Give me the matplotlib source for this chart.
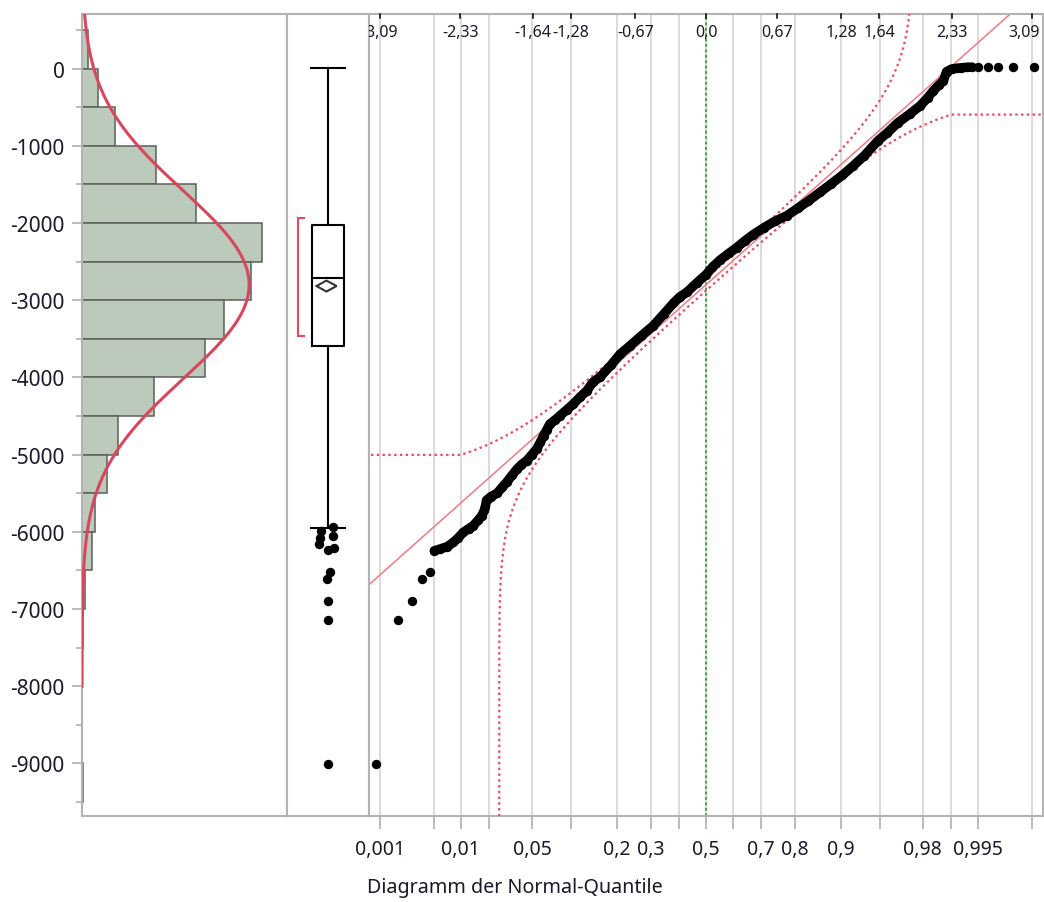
import numpy as np
import matplotlib
matplotlib.use('Agg')
import matplotlib.pyplot as plt
from matplotlib.patches import Polygon
from statistics import NormalDist

plt.rcParams['font.family'] = ['Noto Sans', 'DejaVu Sans']
plt.rcParams['axes.unicode_minus'] = False

# ---------------- data ----------------
# histogram bins (upper edges) and counts
hist_upper = [500, 0, -500, -1000, -1500, -2000, -2500, -3000, -3500, -4000,
              -4500, -5000, -5500, -6000, -6500, -7000, -7500, -8000, -8500, -9000]
hist_counts = [7, 18, 37, 82, 127, 200, 188, 158, 137, 80,
               40, 28, 15, 11, 3, 1, 0, 0, 0, 1]
bin_width = 500

# fitted normal
fit_mean = -2800
fit_sd = 1216
band_d = 0.025   # confidence band half-width (probability)

# box plot statistics
box_q1, box_med, box_q3 = -3590, -2717, -2030
box_whislo, box_whishi = -5945, 5
mean_ci = (-2888, -2746)
shortest_half = (-3460, -1937)
box_outliers = [-5995, -5940, -6085, -6050, -6160, -6230, -6210, -6516, -6610, -6900, -7145, -9010]
box_outlier_jitter = [-0.09, 0.06, -0.10, 0.06, -0.11, 0.0, 0.07, 0.03, -0.01, 0.0, 0.0, 0.0]

# normal quantile plot: (normal quantile, value)
qq_low_z = [-3.128, -2.92, -2.79, -2.695, -2.62]
qq_low_v = [-9010, -7145, -6900, -6610, -6525]
qq_chain_z = [-2.575, -2.52, -2.45, -2.395, -2.35, -2.30, -2.25, -2.206, -2.16, -2.126,
              -2.10, -2.09, -2.08, -2.04, -1.98, -1.93, -1.89, -1.84, -1.79, -1.75,
              -1.70, -1.65, -1.605, -1.57, -1.54, -1.51, -1.48, -1.43, -1.384, -1.32,
              -1.258, -1.19, -1.13, -1.07, -1.00, -0.90, -0.815, -0.72, -0.62, -0.50,
              -0.40, -0.31, -0.25, -0.183, -0.09, 0.0, 0.07, 0.133, 0.22, 0.29,
              0.37, 0.448, 0.55, 0.65, 0.765, 0.87, 0.97, 1.08, 1.18, 1.29,
              1.396, 1.50, 1.63, 1.72, 1.82, 1.93, 2.03, 2.10, 2.155, 2.21,
              2.25, 2.28, 2.33, 2.376, 2.42, 2.47, 2.52]
qq_chain_v = [-6245, -6222, -6190, -6136, -6080, -6006, -5960, -5920, -5850, -5791,
              -5720, -5662, -5590, -5545, -5500, -5420, -5359, -5270, -5186, -5130,
              -5079, -5000, -4928, -4840, -4755, -4680, -4604, -4550, -4496, -4420,
              -4345, -4250, -4173, -4060, -3990, -3840, -3700, -3590, -3470, -3331,
              -3180, -3040, -2960, -2898, -2780, -2670, -2560, -2480, -2390, -2320,
              -2230, -2150, -2060, -1980, -1906, -1810, -1715, -1603, -1500, -1385,
              -1259, -1130, -935, -830, -700, -590, -482, -380, -287, -210,
              -158, -40, -5, 3, 10, 16, 18]
qq_high_z = [2.58, 2.677, 2.77, 2.91, 3.11]
qq_high_v = [20, 22, 23, 24, 25]

# axis ticks
prob_ticks = [0.001, 0.005, 0.01, 0.02, 0.05, 0.1, 0.2, 0.3, 0.4, 0.5,
              0.6, 0.7, 0.8, 0.9, 0.95, 0.98, 0.99, 0.995, 0.999]
prob_labels = ['0,001', '', '0,01', '', '0,05', '', '0,2', '0,3', '', '0,5',
               '', '0,7', '0,8', '0,9', '', '0,98', '', '0,995', '']
quant_ticks = [-3.09, -2.33, -1.64, -1.28, -0.67, 0.0, 0.67, 1.28, 1.64, 2.33, 3.09]
quant_labels = ['-3,09', '-2,33', '-1,64', '-1,28', '-0,67', '0,0', '0,67',
                '1,28', '1,64', '2,33', '3,09']
ytick_major = list(range(-9000, 1, 1000))
ytick_labels = [str(v) for v in ytick_major]
xlabel_text = 'Diagramm der Normal-Quantile'

# ---------------- layout ----------------
W, H = 1044, 903
fig = plt.figure(figsize=(W / 100, H / 100), dpi=100)


def rect(x0, x1, y0, y1):
    return [x0 / W, 1 - y1 / H, (x1 - x0) / W, (y1 - y0) / H]


ax_h = fig.add_axes(rect(82, 287, 15, 817))
ax_b = fig.add_axes(rect(287, 369, 15, 817))
ax_q = fig.add_axes(rect(369, 1043, 15, 817))

YMIN, YMAX = -9680, 706
spine_col = '#b3b3b3'
for ax in (ax_h, ax_b, ax_q):
    ax.set_ylim(YMIN, YMAX)
    for s in ax.spines.values():
        s.set_color(spine_col)
        s.set_linewidth(1.5)

nd = NormalDist()

# ---------------- histogram ----------------
centers = [u - bin_width / 2 for u in hist_upper]
ax_h.barh(centers, hist_counts, height=bin_width, left=0,
          color='#bbcabb', edgecolor='#5a605a', linewidth=1.1, zorder=2)
n_total = sum(hist_counts)
yy = np.linspace(-8000, YMAX, 800)
dens = n_total * bin_width / (fit_sd * np.sqrt(2 * np.pi)) * np.exp(-0.5 * ((yy - fit_mean) / fit_sd) ** 2)
ax_h.plot(dens, yy, color='#d8475b', lw=2.2, zorder=3)
ax_h.set_xlim(0, 228)
ax_h.set_xticks([])
ax_h.set_yticks(ytick_major)
ax_h.set_yticklabels(ytick_labels, fontsize=15, color='#1a1a2a')
ax_h.set_yticks(list(range(-9500, 501, 1000)), minor=True)
ax_h.tick_params(axis='y', which='major', length=7.5, width=1.1, color='#a8a8a8', pad=5)
ax_h.tick_params(axis='y', which='minor', length=4, width=1.1, color='#a8a8a8')

# ---------------- box plot ----------------
ax_b.set_xlim(0, 1)
ax_b.set_xticks([])
ax_b.set_yticks([])
stats = [{'med': box_med, 'q1': box_q1, 'q3': box_q3,
          'whislo': box_whislo, 'whishi': box_whishi, 'fliers': []}]
lprops = dict(color='black', linewidth=1.5)
ax_b.bxp(stats, positions=[0.5], widths=0.39, capwidths=0.41, showfliers=False,
         boxprops=lprops, whiskerprops=lprops, capprops=lprops,
         medianprops=lprops, manage_ticks=False)
ax_b.set_xticks([])
dm = (mean_ci[0] + mean_ci[1]) / 2
diamond = Polygon([[0.36, dm], [0.48, mean_ci[1]], [0.605, dm], [0.48, mean_ci[0]]],
                  closed=True, facecolor='white', edgecolor='#333333', lw=1.5, zorder=4)
ax_b.add_patch(diamond)
ax_b.plot([0.207, 0.138, 0.138, 0.207],
          [shortest_half[1], shortest_half[1], shortest_half[0], shortest_half[0]],
          color='#e8485c', lw=1.5, solid_joinstyle='miter')
ax_b.scatter([0.5 + j for j in box_outlier_jitter], box_outliers, s=46, color='black',
             zorder=5, linewidths=0)

# ---------------- normal quantile plot ----------------
ax_q.set_xlim(-3.194, 3.194)
zt = [nd.inv_cdf(p) for p in prob_ticks]
ax_q.set_xticks(zt)
ax_q.set_xticklabels(prob_labels, fontsize=14, color='#1a1a2a')
ax_q.tick_params(axis='x', which='major', length=9.5, width=1.1, color='#a8a8a8', pad=7)
ax_q.set_yticks([])
for z in zt:
    ax_q.axvline(z, color='#d4d4d4', lw=1.2, zorder=0)
ax_q.axvline(0.0, color='#2aa52a', lw=1.3, ls=(0, (1.5, 1.5)), zorder=1)

# top quantile ticks and labels
trans = ax_q.get_xaxis_transform()
last = len(quant_ticks) - 1
for i, (q, lab) in enumerate(zip(quant_ticks, quant_labels)):
    ax_q.plot([q, q], [1.0, 0.995], transform=trans, color='black', lw=1.1,
              clip_on=False, zorder=6)
    if i == last:
        ax_q.text(0.9955, 0.9775, lab, transform=ax_q.transAxes, ha='right', va='center',
                  fontsize=11.5, color='#1a1a2a')
    else:
        ax_q.text(q, 0.9775, lab, transform=trans, ha='center', va='center',
                  fontsize=11.5, color='#1a1a2a', clip_on=(i == 0))

# fitted line
zl = np.array([-3.4, 3.4])
ax_q.plot(zl, fit_mean + fit_sd * zl, color='#f07a84', lw=1.1, zorder=2)

# confidence bands
pg = np.concatenate([np.linspace(1e-5, 1 - 1e-5, 4000),
                     band_d + np.logspace(-13, -2, 300),
                     1 - band_d - np.logspace(-13, -2, 300)])
pg = np.unique(pg)
zg = np.array([nd.inv_cdf(p) for p in pg])
pc = np.clip(pg, 0.01, 0.99)
up = np.array([fit_mean + fit_sd * nd.inv_cdf(p + band_d) if p + band_d < 1 else np.nan for p in pc])
lo = np.array([fit_mean + fit_sd * nd.inv_cdf(p - band_d) if p - band_d > 0 else np.nan for p in pc])
band_style = dict(color='#f04a62', lw=1.6, ls=(0, (1.1, 1.5)), zorder=3)
ax_q.plot(zg, up, **band_style)
ax_q.plot(zg, lo, **band_style)

# points
ax_q.plot(qq_chain_z, qq_chain_v, color='black', lw=6.8, solid_capstyle='round',
          solid_joinstyle='round', zorder=4)
ax_q.scatter(qq_low_z + qq_chain_z + qq_high_z, qq_low_v + qq_chain_v + qq_high_v,
             s=46, color='black', linewidths=0, zorder=5)

fig.text(367 / W, 1 - 888 / H, xlabel_text, ha='left', va='center',
         fontsize=14.2, color='#1a1a2a')

fig.savefig('out.png', dpi=100)
